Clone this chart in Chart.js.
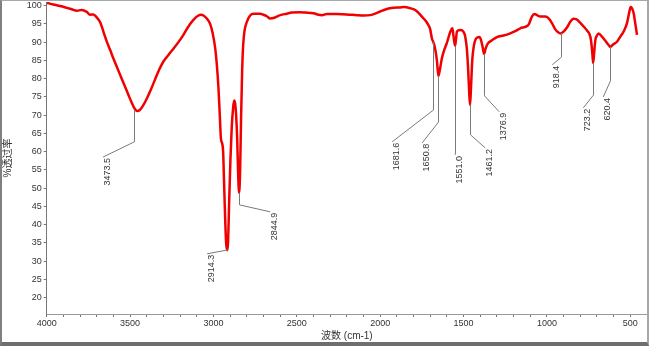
<!DOCTYPE html>
<html>
<head>
<meta charset="utf-8">
<script src="https://cdn.jsdelivr.net/npm/chart.js@4.4.1/dist/chart.umd.min.js"></script>
<style>
    html, body { margin: 0; padding: 0; background: #ffffff; }
    #frame {
        width: 649px; height: 346px; box-sizing: border-box;
        border-top: 1px solid #a8a8a8; border-left: 2px solid #808080;
        border-right: 2px solid #a8a8a8; border-bottom: 4px solid #6e6e6e;
        background: #ffffff;
    }
    canvas { display: block; }
</style>
</head>
<body>
<div id="frame"><canvas id="ir" width="645" height="341"></canvas></div>
<script>
// IR spectrum, wavenumber (cm-1) vs % transmittance
const wavenumbers = [
    4000, 3960, 3920, 3880, 3850, 3820, 3790, 3760, 3740, 3720, 3700, 3680, 3660, 3640, 3620, 3600,
    3580, 3555, 3530, 3505, 3490, 3478, 3466, 3455, 3442, 3425, 3400, 3375, 3350, 3325, 3300, 3270,
    3240, 3210, 3180, 3150, 3120, 3090, 3075, 3060, 3040, 3020, 3005, 2990, 2980, 2970, 2962, 2955,
    2948, 2942, 2936, 2930, 2924, 2917, 2912, 2906, 2898, 2890, 2882, 2876, 2870, 2864, 2858, 2852,
    2846, 2840, 2834, 2828, 2822, 2814, 2800, 2780, 2760, 2740, 2720, 2700, 2680, 2660, 2640, 2620,
    2600, 2560, 2530, 2480, 2450, 2400, 2370, 2350, 2320, 2260, 2200, 2140, 2100, 2060, 2030, 2000,
    1960, 1920, 1880, 1860, 1820, 1790, 1770, 1750, 1730, 1715, 1700, 1690, 1682, 1672, 1660, 1651,
    1642, 1630, 1615, 1600, 1580, 1567, 1560, 1551, 1545, 1540, 1520, 1500, 1490, 1480, 1472, 1466,
    1461, 1455, 1448, 1440, 1425, 1405, 1395, 1385, 1377, 1368, 1355, 1330, 1300, 1260, 1220, 1190,
    1160, 1130, 1110, 1090, 1075, 1060, 1040, 1010, 990, 970, 950, 935, 918, 900, 880, 860,
    840, 825, 800, 780, 760, 745, 736, 728, 723, 717, 710, 700, 690, 670, 650, 630,
    620, 605, 580, 560, 540, 520, 505, 498, 490, 480, 470, 460
];
const transmittance = [
    100.8, 100.3, 99.9, 99.4, 99.0, 98.6, 98.8, 98.3, 97.5, 97.6, 96.8, 95.5, 92.9, 90.2, 87.9, 85.5,
    83.3, 80.5, 77.8, 75.0, 73.4, 72.2, 71.4, 71.1, 71.4, 72.4, 74.5, 77.0, 79.8, 82.5, 84.7, 86.5,
    88.2, 90.0, 92.0, 94.3, 96.1, 97.3, 97.5, 97.3, 96.5, 95.0, 92.5, 88.5, 84.0, 77.5, 70.0, 63.5,
    62.3, 60.0, 51.0, 42.0, 35.0, 33.0, 35.5, 46.0, 58.0, 67.0, 72.0, 74.0, 73.2, 70.0, 64.0, 54.0,
    48.7, 55.0, 70.0, 82.0, 89.0, 93.0, 95.5, 97.3, 97.8, 97.8, 97.8, 97.5, 97.1, 96.5, 96.6, 97.0,
    97.4, 97.8, 98.1, 98.2, 98.1, 97.9, 97.5, 97.4, 97.7, 97.7, 97.6, 97.4, 97.3, 97.4, 97.8, 98.4,
    99.1, 99.4, 99.5, 99.6, 99.3, 98.8, 98.0, 97.0, 96.0, 95.0, 93.5, 91.0, 90.1, 88.5, 85.0, 80.7,
    82.5, 85.6, 88.0, 89.8, 92.8, 93.8, 91.5, 89.0, 91.0, 92.9, 93.3, 92.8, 91.5, 88.0, 82.0, 76.0,
    72.8, 78.0, 85.0, 88.5, 91.0, 91.4, 90.5, 88.5, 86.8, 88.2, 89.6, 90.5, 91.4, 91.8, 92.4, 93.0,
    93.8, 94.2, 94.8, 97.0, 97.7, 97.4, 97.0, 97.0, 96.5, 95.2, 93.5, 92.8, 92.4, 92.9, 94.0, 95.6,
    96.4, 96.3, 95.3, 94.3, 93.2, 92.2, 90.6, 87.0, 84.3, 87.0, 90.5, 91.8, 92.4, 91.5, 90.4, 89.2,
    88.7, 89.3, 90.1, 91.5, 92.9, 95.2, 98.5, 99.6, 99.3, 97.9, 95.0, 92.0
];

// labelled peaks
const peakLabels = ['3473.5', '2914.3', '2844.9', '1681.6', '1650.8', '1551.0', '1461.2', '1376.9', '918.4', '723.2', '620.4'];
const peakWavenumbers = [3473.5, 2914.3, 2844.9, 1681.6, 1650.8, 1551.0, 1461.2, 1376.9, 918.4, 723.2, 620.4];
const peakValues = [71.3, 33.1, 48.7, 90.1, 80.7, 89.0, 72.8, 86.8, 92.5, 84.3, 88.7];

// axis ticks
const xTickValues = [];
for (let w = 4000; w >= 500; w -= 100) xTickValues.push(w);
const xTickLabels = [4000, 3500, 3000, 2500, 2000, 1500, 1000, 500];
const yTickValues = [20, 25, 30, 35, 40, 45, 50, 55, 60, 65, 70, 75, 80, 85, 90, 95, 100];

const AXIS_FONT = { family: "'Liberation Sans', Arial, sans-serif", size: 9 };

// leader lines: [bend %T, label end wavenumber, label end %T]
const leaderLayout = [
    [62.7, 3662, 58.5],
    [33.1, 3038, 32.0],
    [45.4, 2660, 43.5],
    [71.4, 1928, 62.7],
    [68.1, 1748, 62.4],
    [59.6, 1551, 59.1],
    [64.6, 1370, 61.0],
    [75.3, 1286, 70.9],
    [85.9, 968, 83.8],
    [75.5, 782, 72.0],
    [79.4, 662, 75.0]
];

const peakLeaders = {
    id: 'peakLeaders',
    afterDatasetsDraw(chart) {
        const ctx = chart.ctx
        const xs = chart.scales.x
        const ys = chart.scales.y
        ctx.save()
        ctx.strokeStyle = '#7a7a7a'
        ctx.lineWidth = 1
        ctx.fillStyle = '#333333'
        ctx.font = "9px 'Liberation Sans', Arial, sans-serif"
        peakLabels.forEach((label, i) => {
            const lay = leaderLayout[i]
            const px = xs.getPixelForValue(peakWavenumbers[i])
            const py = ys.getPixelForValue(peakValues[i])
            const by = ys.getPixelForValue(lay[0])
            const ex = xs.getPixelForValue(lay[1])
            const ey = ys.getPixelForValue(lay[2])
            ctx.beginPath()
            ctx.moveTo(Math.round(px) + 0.5, py)
            ctx.lineTo(Math.round(px) + 0.5, by)
            ctx.lineTo(ex, ey)
            ctx.stroke()
            ctx.save()
            ctx.translate(ex + 4, ey + 1)
            ctx.rotate(-Math.PI / 2)
            ctx.textAlign = 'right'
            ctx.textBaseline = 'middle'
            ctx.fillText(label, 0, 0)
            ctx.restore()
        })
        ctx.restore()
    }
}

const spectrum = wavenumbers.map((w, i) => ({ x: w, y: transmittance[i] }))

new Chart(document.getElementById('ir'), {
    type: 'line',
    data: {
        datasets: [{
            data: spectrum,
            borderColor: 'rgb(240, 0, 0)',
            borderWidth: 2.5,
            pointRadius: 0,
            fill: false,
            cubicInterpolationMode: 'monotone'
        }]
    },
    options: {
        responsive: false,
        animation: false,
        layout: { padding: { top: 1, right: 0, left: 0, bottom: 0 } },
        plugins: {
            legend: { display: false },
            tooltip: { enabled: false }
        },
        scales: {
            x: {
                type: 'linear',
                reverse: true,
                min: 400,
                max: 4000,
                afterBuildTicks: scale => { scale.ticks = xTickValues.map(v => ({ value: v })) },
                afterFit: scale => { scale.height = 28 },
                ticks: {
                    autoSkip: false,
                    maxRotation: 0,
                    padding: 1,
                    color: '#333333',
                    font: AXIS_FONT,
                    callback: v => xTickLabels.includes(v) ? String(v) : ''
                },
                grid: { drawOnChartArea: false, tickLength: 3, color: '#777777' },
                border: { color: '#9a9a9a', width: 1, dash: [1, 1] },
                title: {
                    display: true,
                    text: '波数 (cm-1)',
                    color: '#333333',
                    padding: { top: 0, bottom: 0 },
                    font: { family: "'Liberation Sans', 'Noto Sans CJK SC', sans-serif", size: 10 }
                }
            },
            y: {
                min: 15.5,
                max: 101,
                afterBuildTicks: scale => { scale.ticks = yTickValues.map(v => ({ value: v })) },
                afterFit: scale => {
                    scale.width = 44.7
                    scale.paddingTop = 0
                    scale.paddingBottom = 0
                },
                ticks: {
                    padding: 2,
                    color: '#333333',
                    font: AXIS_FONT
                },
                grid: { drawOnChartArea: false, tickLength: 3, color: '#777777' },
                border: { color: '#777777', width: 1, dash: [1, 1] },
                title: {
                    display: true,
                    text: '%透过率',
                    color: '#333333',
                    padding: { top: 0, bottom: 0 },
                    font: { family: "'Liberation Sans', 'Noto Sans CJK SC', sans-serif", size: 10 }
                }
            }
        }
    },
    plugins: [peakLeaders]
})
</script>
</body>
</html>
